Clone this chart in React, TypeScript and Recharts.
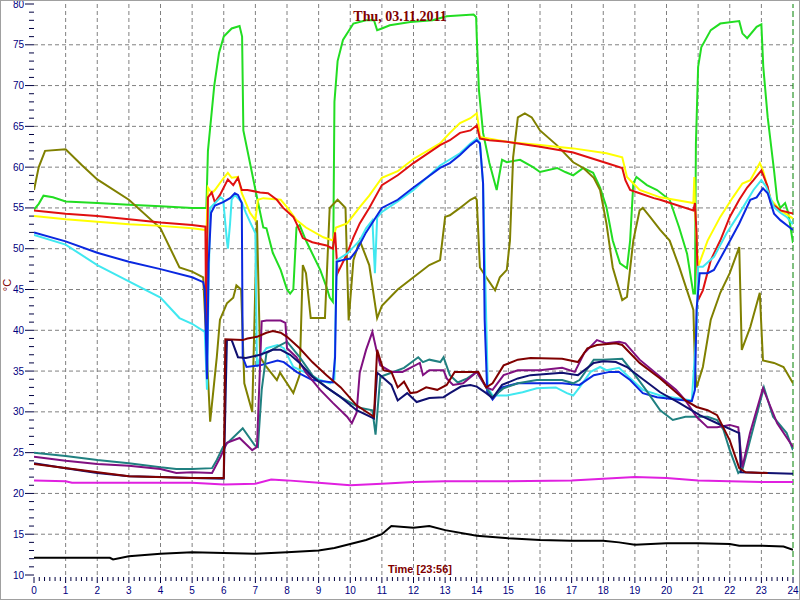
import { LineChart, Line, XAxis, YAxis, ReferenceLine } from 'recharts'

// [hour, °C] pairs
const green = [
  [0, 54.8], [0.15, 55.5], [0.3, 56.5], [0.6, 56.3], [1, 55.8], [2, 55.6], [3, 55.4], [4, 55.2], [5, 55.0], [5.45, 55.0],
  [5.5, 62], [5.7, 70], [5.85, 74], [6, 76], [6.25, 77], [6.5, 77.3], [6.58, 76], [6.62, 64.5], [7.05, 56.3], [7.25, 52.6],
  [7.35, 52.5], [7.55, 49.5], [7.8, 47.4], [8.0, 45], [8.1, 44.5], [8.2, 45], [8.3, 52.6], [8.4, 52.9], [8.6, 51], [9.05, 47.4],
  [9.25, 45.3], [9.35, 44], [9.45, 43.5], [9.5, 68], [9.6, 73], [9.77, 75.6], [10.1, 77.6], [10.5, 78], [10.75, 78], [10.85, 76.8],
  [11, 77], [11.25, 77.4], [11.9, 77.8], [12.6, 78], [13.05, 78.5], [13.9, 78.7], [13.98, 78.4], [14.0, 76], [14.07, 69.4],
  [14.2, 64.2], [14.4, 60.5], [14.63, 57.2], [14.8, 60.9], [14.95, 60.6], [15.37, 60.9], [15.78, 60], [16, 59.4], [16.54, 59.9],
  [16.8, 59.4], [17.05, 59], [17.37, 59.9], [17.68, 59.3], [17.9, 57.5], [18.1, 55.1], [18.3, 51], [18.53, 48.2], [18.75, 47.6],
  [18.85, 51], [18.95, 58], [19.05, 58.8], [19.38, 57.8], [19.7, 57.2], [20.1, 56], [20.4, 52.6], [20.65, 49.4], [20.85, 44.5],
  [20.9, 44.5], [20.93, 62.9], [21, 72.3], [21.1, 74.7], [21.4, 76.8], [21.7, 77.6], [22.3, 77.9], [22.4, 76.4], [22.55, 75.8],
  [22.85, 77.2], [23, 77.5], [23.06, 72.3], [23.2, 66.1], [23.4, 59.6], [23.5, 56], [23.6, 55], [23.75, 55.6], [23.85, 54.4], [24, 50.7],
]

const olive = [
  [0, 57.2], [0.15, 60], [0.35, 62], [1, 62.2], [1.5, 60.3], [2, 58.5], [3, 56], [4, 52.5], [4.6, 47.7], [5, 47.2], [5.35, 46.5],
  [5.57, 28.8], [5.78, 36.7], [5.88, 41.3], [6.1, 43.3], [6.3, 44], [6.4, 45.5], [6.55, 45], [6.65, 33.5], [6.9, 30], [7.05, 53.5],
  [7.15, 36.7], [7.35, 35.5], [7.68, 33.9], [7.78, 34.8], [8.2, 32.3], [8.4, 34.5], [8.5, 48], [8.6, 47], [8.75, 41.5], [9.2, 41.5],
  [9.35, 55], [9.6, 56], [9.85, 55], [9.95, 41.2], [10.1, 48.6], [10.3, 51], [10.6, 48], [10.85, 41.5], [11, 43], [11.5, 45],
  [12, 46.5], [12.5, 48], [12.84, 48.6], [13.0, 53.9], [13.15, 54.1], [13.47, 55], [13.8, 56], [13.95, 56.3], [14.0, 56],
  [14.1, 47.7], [14.3, 46.5], [14.58, 44.9], [14.73, 46.5], [14.95, 47.4], [15.05, 51], [15.15, 61.2], [15.3, 66.1], [15.52, 66.6],
  [15.74, 66.1], [16, 64.5], [16.53, 62.7], [17.05, 60.6], [17.37, 59.9], [17.7, 58.7], [17.9, 57.2], [18.1, 53.1], [18.3, 47.7],
  [18.6, 43.7], [18.75, 44.1], [18.95, 51], [19.15, 54.7], [19.25, 55], [19.48, 53.9], [19.8, 52.3], [20.1, 51], [20.4, 47.8],
  [20.75, 43.7], [20.85, 42.5], [20.9, 35.5], [20.95, 33], [21.15, 35.5], [21.4, 41.3], [21.7, 44.6], [22.0, 47], [22.3, 50.2],
  [22.38, 37.6], [22.65, 40.4], [22.95, 44.6], [23.05, 36.3], [23.4, 36], [23.7, 35.5], [24, 33.5],
]

const yellow = [
  [0, 54], [1, 53.6], [2, 53.3], [3, 53], [4, 52.8], [5, 52.5], [5.42, 52.3], [5.45, 51.9], [5.5, 57.5], [5.62, 56.8],
  [5.72, 57.2], [6.0, 58.7], [6.13, 59.3], [6.25, 58.7], [6.45, 58.8], [6.57, 56.8], [6.83, 54.4], [7.0, 53.5], [7.08, 56],
  [7.25, 56.2], [7.8, 56], [8.0, 55.1], [8.3, 53.5], [8.6, 52.6], [9.15, 51.4], [9.45, 51], [9.55, 52.6], [9.9, 53.1], [10.3, 55.1],
  [10.6, 56.5], [11, 58.7], [11.5, 59.5], [12, 61], [12.84, 62.9], [13.15, 64.2], [13.47, 65.4], [13.8, 66], [14.0, 66.6],
  [14.05, 65.4], [14.1, 63.7], [14.95, 63.1], [16, 62.7], [17.05, 62.3], [18.1, 61.7], [18.6, 61.2], [18.75, 58.8], [19.15, 57.2],
  [19.8, 56.3], [20.85, 55.6], [20.88, 58.8], [20.9, 55.1], [21.0, 47.8], [21.3, 51], [21.7, 53.9], [22.1, 56.3], [22.4, 58],
  [22.65, 58.4], [22.95, 60.5], [23.05, 59.6], [23.3, 56], [23.6, 54.7], [24, 53.7],
]

const red = [
  [0, 54.7], [1, 54.3], [2, 54.0], [3, 53.6], [4, 53.2], [5, 52.9], [5.42, 52.7], [5.45, 37.2], [5.5, 56.3], [5.62, 56.9],
  [5.72, 55.7], [5.88, 56.6], [6.13, 58.5], [6.3, 57.8], [6.45, 58.7], [6.57, 57.2], [6.75, 57.2], [7.15, 56.9], [7.4, 56.8],
  [7.68, 56], [7.88, 55], [8.2, 53.9], [8.3, 53.1], [8.5, 51.3], [8.8, 50.8], [9.25, 50.4], [9.45, 50], [9.52, 52], [9.6, 47],
  [9.9, 49.4], [10.1, 51.4], [10.3, 53.1], [10.6, 55], [11, 57.8], [11.5, 59], [12, 60.5], [12.84, 62.7], [13.15, 63.3],
  [13.47, 64.2], [13.8, 64.5], [14.0, 65.1], [14.1, 63.5], [14.4, 63.3], [14.95, 63.1], [16, 62.5], [17.05, 61.8], [18.1, 60.5],
  [18.6, 59.9], [18.7, 58.4], [18.85, 57.2], [19.15, 56.8], [19.6, 56.2], [19.8, 56], [20.85, 54.7], [20.9, 55.6], [20.95, 51.9],
  [21.0, 43.7], [21.15, 44.9], [21.4, 48.6], [21.7, 51], [22.0, 53.9], [22.3, 56], [22.55, 57.5], [22.75, 58.4], [23.0, 59.6],
  [23.2, 57.6], [23.3, 55.6], [23.6, 54.7], [24, 54.3],
]

const cyan = [
  [0, 51.7], [1, 50.5], [2, 48], [3, 46], [4, 44], [4.6, 41.5], [5, 40.8], [5.4, 39.8], [5.47, 32.7], [5.52, 45], [5.57, 55],
  [5.9, 56.3], [5.98, 56.1], [6.1, 51], [6.13, 50], [6.2, 53.1], [6.25, 56], [6.35, 56.6], [6.57, 55.7], [6.7, 54.4],
  [6.83, 53.3], [7.0, 51.9], [7.05, 35.5], [7.15, 36.7], [7.35, 37.8], [7.7, 38.2], [7.9, 37.8], [8.2, 35.5], [8.6, 34.8],
  [9.05, 33.9], [9.36, 33.5], [9.5, 34], [9.55, 45], [9.58, 48.6], [9.9, 49.4], [10.1, 50.2], [10.3, 51], [10.5, 52.5],
  [10.7, 53.5], [10.78, 47], [10.85, 53.8], [11, 54.5], [11.5, 55.8], [12, 57.2], [12.84, 60.2], [13.47, 61.7], [13.8, 62.9],
  [14.0, 63.5], [14.1, 63], [14.2, 58], [14.3, 41.3], [14.35, 33], [14.5, 32], [14.95, 32], [15.45, 32.4], [15.9, 32.9],
  [16.5, 33], [16.85, 32.3], [17.05, 32], [17.25, 33], [17.6, 34.9], [17.9, 35.5], [18.1, 35.1], [18.5, 35.4], [18.8, 34.3],
  [19.25, 32.7], [19.8, 32], [20.3, 31.7], [20.8, 31.4], [20.95, 40], [21.0, 47.8], [21.15, 47.8], [21.5, 49], [21.9, 51.9],
  [22.3, 54.3], [22.75, 57.2], [23.0, 58.4], [23.15, 57.6], [23.4, 55.1], [23.6, 54.4], [23.8, 53.9], [24, 53],
]

const blue = [
  [0, 52], [1, 50.9], [2, 49.5], [3, 48.4], [4, 47.5], [5, 46.5], [5.35, 45.9], [5.4, 45], [5.47, 34], [5.52, 48.2],
  [5.6, 54.4], [5.72, 55.3], [5.98, 55.7], [6.2, 56.2], [6.35, 56.8], [6.45, 56.6], [6.57, 55.6], [6.6, 36.7], [6.72, 35.5],
  [7.15, 35.7], [7.7, 36.3], [7.9, 36.1], [8.3, 34.9], [8.8, 33.9], [9.45, 33.6], [9.52, 36.7], [9.57, 48.4], [9.75, 48.6],
  [10.0, 48.8], [10.2, 49.8], [10.5, 52], [11, 55], [11.5, 56], [12, 57.5], [12.84, 59.9], [13.15, 60.5], [13.47, 61.5],
  [13.8, 62.7], [14.0, 63.3], [14.1, 62.9], [14.2, 58], [14.25, 41.3], [14.33, 32.5], [14.5, 31.5], [14.8, 33], [15.3, 33.5],
  [15.9, 33.5], [16.7, 33.5], [17.25, 33.3], [17.7, 34.5], [18.2, 34.9], [18.5, 34.9], [18.85, 33.9], [19.25, 32.3],
  [19.7, 31.8], [20.1, 31.6], [20.8, 31.3], [20.9, 32.7], [20.95, 42.5], [21.05, 47], [21.3, 47], [21.5, 47.4], [21.9, 50.2],
  [22.3, 53.1], [22.65, 56], [22.85, 56.3], [23.05, 57.4], [23.2, 56.8], [23.4, 54.3], [23.6, 53.5], [23.9, 52.6], [24, 52.3],
]

const teal = [
  [0, 25], [1, 24.6], [2, 24.1], [3, 23.7], [4, 23.2], [4.5, 23.0], [5, 23.0], [5.63, 23.1], [5.78, 24.1], [5.98, 25.7],
  [6.2, 26.5], [6.6, 28], [6.98, 25.9], [7.08, 25.7], [7.2, 32.7], [7.35, 37.2], [7.7, 38], [8.0, 38.6], [8.4, 36.7],
  [8.8, 34.5], [9.25, 33], [9.7, 31.8], [10.3, 30.5], [10.7, 30.2], [10.8, 27.2], [10.95, 34.3], [11.3, 34.8], [11.7, 35.4],
  [12.15, 36.7], [12.3, 36.1], [12.5, 36.4], [12.85, 36.1], [12.95, 36.7], [13.15, 34.5], [13.4, 33.6], [13.7, 34.1],
  [14.0, 34.9], [14.3, 33], [14.5, 31.8], [14.85, 32.9], [15.3, 33.5], [15.9, 33.9], [16.7, 33.9], [17.05, 33.5], [17.25, 33.9],
  [17.7, 36.4], [18, 36.4], [18.6, 36.5], [18.95, 34.8], [19.35, 32.7], [19.8, 30.2], [20.2, 29], [20.6, 29.4], [21.3, 29.4],
  [21.6, 29], [21.8, 27.8], [22.0, 25.3], [22.27, 22.5], [22.4, 22.9], [22.75, 28.1], [23.08, 33], [23.37, 29.4], [23.8, 27.4],
  [24, 25.3],
]

const purple = [
  [0, 24.5], [1, 24.0], [2, 23.6], [3, 23.4], [4, 23.0], [4.5, 22.5], [5, 22.6], [5.63, 22.5], [5.9, 24.5], [6.1, 26.2],
  [6.5, 26.8], [6.9, 25.3], [7.05, 25.7], [7.2, 41.1], [7.35, 41.2], [7.8, 41.2], [7.95, 40.9], [8.0, 37.8], [8.3, 36.7],
  [8.6, 34.8], [9.05, 32.7], [9.45, 31.1], [9.9, 29.4], [10.05, 28.6], [10.2, 29.9], [10.3, 34.8], [10.5, 37.6], [10.7, 39.8],
  [10.85, 37.2], [10.95, 35.7], [11.3, 34.9], [11.65, 34.9], [11.9, 35.4], [12.2, 36], [12.3, 34.5], [12.5, 35.1], [12.95, 35.1],
  [13.05, 34.1], [13.25, 33.3], [13.57, 33.5], [14.0, 34.9], [14.3, 33], [14.5, 32.7], [14.85, 34.5], [15.3, 35.1], [16, 35.1],
  [16.7, 35.4], [17.1, 34.9], [17.4, 37.2], [17.8, 38.8], [18.1, 38.4], [18.5, 38.6], [18.7, 38.4], [19.15, 36.4], [19.8, 34.3],
  [20.3, 32.7], [20.6, 31.4], [20.95, 29.4], [21.3, 28.1], [21.6, 28.1], [22.0, 28.4], [22.27, 28.1], [22.4, 23.2],
  [22.64, 27.4], [23.05, 32.9], [23.5, 28.6], [24, 25.7],
]

const navy = [
  [0, 23.7], [1, 23.1], [2, 22.5], [3, 22.1], [4, 22.0], [5, 21.9], [6.0, 21.8], [6.1, 38.8], [6.25, 38.8], [6.45, 36.7],
  [6.7, 36.6], [7.15, 37], [7.55, 37.6], [7.8, 37.6], [8.1, 37], [8.4, 36], [8.8, 34.3], [9.25, 33], [9.7, 31.8], [10.2, 30.2],
  [10.75, 29.2], [10.85, 34.8], [10.95, 34.5], [11.3, 33.3], [11.5, 31.4], [11.8, 32.3], [12.1, 31.2], [12.5, 31.7],
  [12.95, 31.8], [13.15, 32.3], [13.5, 33.1], [13.8, 33.3], [14.0, 33.1], [14.3, 32.3], [14.5, 31.7], [14.8, 33.3], [15.3, 34.1],
  [15.7, 34.5], [16.7, 34.8], [17.2, 34.5], [17.7, 36], [18, 36.2], [18.4, 36.1], [18.75, 35.5], [19.15, 34.3], [19.8, 32.4],
  [20.4, 31.1], [21.05, 29.6], [21.6, 28.6], [22.3, 27.4], [22.35, 22.6], [23.2, 22.5], [24, 22.4],
]

const maroon = [
  [0, 23.6], [3, 22.1], [5, 21.9], [6.0, 21.9], [6.05, 38.9], [6.6, 38.8], [6.75, 39], [7.05, 39.2], [7.35, 39.7], [7.55, 39.9],
  [7.8, 39.7], [8.0, 39.2], [8.4, 37.8], [8.8, 36.1], [9.25, 34.5], [9.7, 33], [10.2, 30.8], [10.75, 29.4], [10.85, 37.6],
  [11.05, 35.1], [11.3, 34.9], [11.5, 33], [11.7, 33.7], [11.9, 32.3], [12.1, 32.4], [12.4, 33], [12.75, 32.7], [13.05, 33.3],
  [13.3, 34.9], [13.8, 34.9], [14.05, 34.9], [14.3, 33], [14.5, 33.5], [14.85, 35.7], [15.3, 36.4], [15.7, 36.6], [16.7, 36.5],
  [17.2, 36.1], [17.5, 37.8], [17.8, 38.2], [18.4, 38.4], [18.6, 38.2], [19.15, 36], [19.8, 34.1], [20.6, 31.4], [20.95, 30.6],
  [21.3, 30.2], [21.6, 29.6], [22, 26.5], [22.3, 23.1], [22.5, 22.6], [23.2, 22.5],
]

const magenta = [
  [0, 21.6], [1, 21.5], [1.2, 21.3], [3, 21.3], [5, 21.3], [6, 21.1], [7, 21.2], [7.5, 21.7], [8, 21.6], [9, 21.3], [10, 21.0],
  [11, 21.2], [12, 21.4], [13, 21.5], [15, 21.5], [17, 21.6], [18, 21.8], [19, 22.0], [20, 21.9], [21, 21.6], [22, 21.5],
  [23, 21.4], [24, 21.4],
]

const black = [
  [0, 12.1], [2.4, 12.1], [2.5, 11.9], [3, 12.3], [4, 12.6], [5, 12.8], [6, 12.7], [7, 12.6], [8, 12.8], [9, 13.0], [9.5, 13.3],
  [10, 13.8], [10.5, 14.3], [11, 15], [11.3, 16], [12, 15.8], [12.5, 16], [13, 15.5], [14, 14.8], [15, 14.5], [16, 14.3],
  [17, 14.2], [18, 14.2], [18.5, 14.0], [19, 13.7], [20, 13.9], [21, 13.9], [22, 13.8], [22.3, 13.6], [23, 13.6], [23.7, 13.5],
  [24, 13.1],
]

const SERIES = [
  { name: 'magenta', color: '#e020e0', points: magenta },
  { name: 'black', color: '#000000', points: black },
  { name: 'green', color: '#22dd22', points: green },
  { name: 'olive', color: '#808000', points: olive },
  { name: 'yellow', color: '#ffff00', points: yellow },
  { name: 'red', color: '#e01010', points: red },
  { name: 'cyan', color: '#40e8f0', points: cyan },
  { name: 'blue', color: '#0a28e0', points: blue },
  { name: 'teal', color: '#208080', points: teal },
  { name: 'purple', color: '#801080', points: purple },
  { name: 'navy', color: '#101070', points: navy },
  { name: 'maroon', color: '#800000', points: maroon },
]

const X_TICKS = Array.from({ length: 145 }, (_, i) => i / 6)
const Y_TICKS = Array.from({ length: 71 }, (_, i) => 10 + i)
const GRID_X = Array.from({ length: 23 }, (_, i) => i + 1)
const GRID_Y = [15, 20, 25, 30, 35, 40, 45, 50, 55, 60, 65, 70, 75]

const TICK_FONT = { fontFamily: '"Liberation Sans", Arial, sans-serif', fontSize: 10, fill: '#000080' }

const XTick = (props: any) => {
  const { x, y, payload } = props
  const v = payload.value
  const major = Math.abs(v - Math.round(v)) < 1e-6
  return (
    <g>
      <line x1={x} x2={x} y1={y + 2} y2={y + (major ? 8 : 6)} stroke="#000040" />
      {major && (
        <text x={x} y={y + 19} textAnchor="middle" {...TICK_FONT}>
          {Math.round(v)}
        </text>
      )}
    </g>
  )
}

const YTick = (props: any) => {
  const { x, y, payload } = props
  const v = payload.value
  const major = v % 5 === 0
  return (
    <g>
      <line x1={x - (major ? 9 : 5)} x2={x} y1={y} y2={y} stroke="#000040" />
      {major && (
        <text x={x - 10} y={y + 3.5} textAnchor="end" {...TICK_FONT}>
          {v}
        </text>
      )}
    </g>
  )
}

export default function App() {
  return (
    <div style={{ position: 'relative', width: 800, height: 600, background: '#fff' }}>
      <style>{'body{margin:0}'}</style>
      <LineChart width={800} height={600} margin={{ top: 4, right: 7, bottom: 0, left: 0 }}>
        <XAxis
          dataKey="h"
          type="number"
          domain={[0, 24]}
          ticks={X_TICKS}
          interval={0}
          tick={XTick}
          tickLine={false}
          axisLine={false}
          tickSize={0}
          tickMargin={0}
          height={25}
          allowDataOverflow
        />
        <YAxis
          type="number"
          domain={[10, 80]}
          ticks={Y_TICKS}
          interval={0}
          tick={YTick}
          tickLine={false}
          axisLine={false}
          tickSize={0}
          tickMargin={0}
          width={34}
          allowDataOverflow
        />
        {GRID_X.map((h) => (
          <ReferenceLine key={`gx-${h}`} x={h} stroke="#808080" strokeDasharray="4 3" />
        ))}
        {GRID_Y.map((v) => (
          <ReferenceLine key={`gy-${v}`} y={v} stroke="#808080" strokeDasharray="4 3" />
        ))}
        <ReferenceLine x={24} stroke="#008000" strokeDasharray="6 3" />
        {SERIES.map((s) => (
          <Line
            key={s.name}
            data={s.points.map(([h, v]) => ({ h, v }))}
            dataKey="v"
            type="linear"
            stroke={s.color}
            strokeWidth={2}
            dot={false}
            activeDot={false}
            isAnimationActive={false}
          />
        ))}
      </LineChart>
      <svg width={800} height={600} style={{ position: 'absolute', left: 0, top: 0, pointerEvents: 'none' }}>
        <text x={400} y={21} textAnchor="middle" fill="#800000" fontWeight="bold" fontSize={14} fontFamily='"Liberation Serif", serif'>
          Thu, 03.11.2011
        </text>
        <text x={420} y={573} textAnchor="middle" fill="#800000" fontWeight="bold" fontSize={11} fontFamily='"Liberation Sans", sans-serif'>
          Time [23:56]
        </text>
        <text x={15} y={289} textAnchor="middle" transform="rotate(-90 11 289)" fill="#800000" fontSize={11} fontFamily='"Liberation Sans", sans-serif'>
          °C
        </text>
      </svg>
      <div style={{ position: 'absolute', inset: 0, border: '1px solid #a0a0a0', boxSizing: 'border-box', pointerEvents: 'none' }} />
    </div>
  )
}
